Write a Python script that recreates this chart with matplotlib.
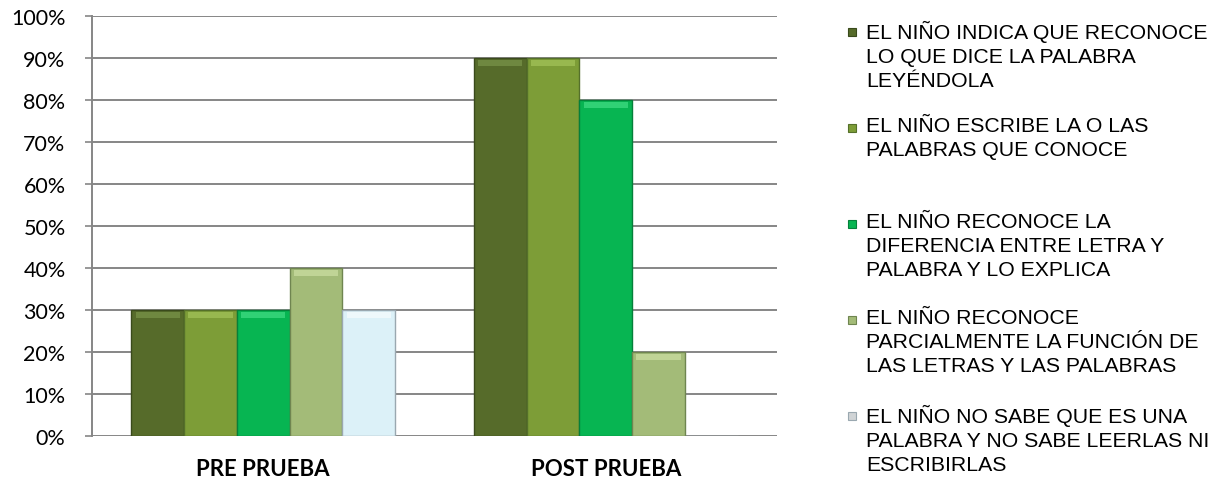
import matplotlib.pyplot as plt
import numpy as np
from matplotlib.patches import Rectangle
from matplotlib.ticker import PercentFormatter

# Etapas evaluadas y porcentaje de niños por indicador
etapas = ["PRE PRUEBA", "POST PRUEBA"]
indicadores = [
    "EL NIÑO INDICA QUE RECONOCE\nLO QUE DICE LA PALABRA\nLEYÉNDOLA",
    "EL NIÑO ESCRIBE LA O LAS\nPALABRAS QUE CONOCE",
    "EL NIÑO RECONOCE LA\nDIFERENCIA ENTRE LETRA Y\nPALABRA Y LO EXPLICA",
    "EL NIÑO RECONOCE\nPARCIALMENTE LA FUNCIÓN DE\nLAS LETRAS Y LAS PALABRAS",
    "EL NIÑO NO SABE QUE ES UNA\nPALABRA Y NO SABE LEERLAS NI\nESCRIBIRLAS",
]
pre_prueba = [0.30, 0.30, 0.30, 0.40, 0.30]
post_prueba = [0.90, 0.90, 0.80, 0.20, 0.00]
colores = ["#566b2a", "#7d9d37", "#07b552", "#a3bb78", "#dcf1f8"]
bordes = ["#3a4a1c", "#55702a", "#05803a", "#6f8550", "#9aa8b0"]
brillos = ["#6f8840", "#98b84f", "#30d175", "#c0d496", "#eef8fb"]

fig = plt.figure(figsize=(12.2, 4.85), dpi=100)
ax = fig.add_axes([0.0754, 0.099, 0.5615, 0.866])

x = np.arange(len(etapas))
n = len(indicadores)
ancho = 0.154
valores = np.array([pre_prueba, post_prueba])

for i in range(n):
    pos = x + (i - (n - 1) / 2) * ancho
    alturas = valores[:, i]
    ax.bar(pos, alturas, width=ancho, color=colores[i], edgecolor=bordes[i],
           linewidth=1.0, zorder=3)
    # bisel claro en la parte superior de cada barra
    for p, h in zip(pos, alturas):
        if h <= 0:
            continue
        ax.bar(p, 0.014, bottom=h - 0.018, width=ancho * 0.84,
               color=brillos[i], linewidth=0, zorder=4)

ax.set_xlim(-0.5, 1.5)
ax.set_ylim(0, 1.0)
ax.set_yticks(np.arange(0, 1.01, 0.1))
ax.yaxis.set_major_formatter(PercentFormatter(1.0, decimals=0))
ax.set_xticks(x)
ax.set_xticklabels(etapas, fontfamily="Lato", fontweight="bold", fontsize=16)
ax.tick_params(axis="x", length=0, pad=16)
ax.tick_params(axis="y", length=5, width=1.2, color="#868686", pad=14,
               labelsize=15.5)
for lbl in ax.get_yticklabels():
    lbl.set_fontfamily("Lato")

ax.grid(axis="y", color="#868686", linewidth=1.4, zorder=0)
for s in ["top", "right", "bottom"]:
    ax.spines[s].set_visible(False)
ax.spines["left"].set_color("#868686")
ax.spines["left"].set_linewidth(1.4)

# Leyenda a la derecha, una entrada por indicador
y0 = 1 - 33 / 485
paso = 96 / 485
for i, texto in enumerate(indicadores):
    yy = y0 - i * paso
    fig.patches.append(Rectangle((848 / 1220, yy - 4 / 485), 8 / 1220, 8 / 485,
                                 transform=fig.transFigure,
                                 facecolor=colores[i] if i < 4 else "#d0d4d6",
                                 edgecolor=bordes[i], linewidth=0.8))
    fig.text(866 / 1220, yy + 12 / 485, texto, fontfamily="Liberation Sans",
             fontsize=15.3, va="top", ha="left", linespacing=1.32,
             color="#000000")

fig.savefig("out.png", dpi=100)
